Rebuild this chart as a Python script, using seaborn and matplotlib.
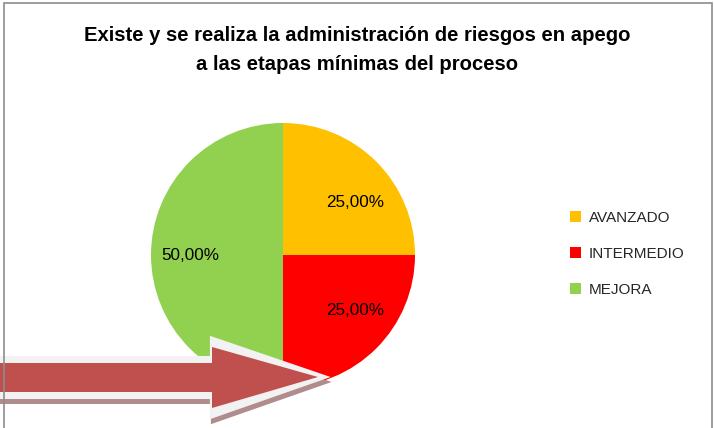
import matplotlib
matplotlib.use('Agg')
import matplotlib.pyplot as plt
import seaborn as sns
from matplotlib.patches import Polygon, Rectangle

# Datos
categorias = ['AVANZADO', 'INTERMEDIO', 'MEJORA']
porcentajes = [25.0, 25.0, 50.0]
colores = ['#FFC000', '#FF0000', '#92D050']
titulo = 'Existe y se realiza la administración de riesgos en apego\na las etapas mínimas del proceso'

sns.set_theme(style='white')
plt.rcParams['font.family'] = ['Liberation Sans', 'DejaVu Sans']

W, H = 714, 428
fig = plt.figure(figsize=(W / 100, H / 100), dpi=100)
fig.patch.set_facecolor('white')

# Marco del gráfico
fig.patches.append(Rectangle((4 / W, -0.05), 708 / W, 1.05 - 3 / H,
                             transform=fig.transFigure, fill=False,
                             edgecolor='#8C8C8C', linewidth=1.2))

# Pastel
cx, cy, r = 283, 255, 132
ax = fig.add_axes([(cx - r) / W, 1 - (cy + r) / H, 2 * r / W, 2 * r / H])
wedges, textos = ax.pie(porcentajes, colors=colores, startangle=90, counterclock=False,
                        radius=1.0, wedgeprops=dict(linewidth=0))
ax.set_xlim(-1, 1)
ax.set_ylim(-1, 1)
ax.set_aspect('auto')
ax.axis('off')

# Etiquetas de porcentaje
pos_etiquetas = [(0.55, 0.40), (0.55, -0.42), (-0.70, 0.0)]
for (x, y), p in zip(pos_etiquetas, porcentajes):
    ax.text(x, y, f'{p:.2f}'.replace('.', ',') + '%', ha='center', va='center',
            fontsize=12.3, color='#000000')

fig.text(0.5, 1 - 50 / H, titulo, ha='center', va='center', fontsize=14.6,
         fontweight='bold', linespacing=1.65, color='#000000')

leg = fig.legend(wedges, categorias, loc='center left',
                 bbox_to_anchor=(556 / W, 1 - 254 / H), frameon=False,
                 fontsize=11, handlelength=0.75, handleheight=0.75,
                 handletextpad=0.5, labelspacing=1.45)

# Flecha superpuesta
ov = fig.add_axes([0, 0, 1, 1], facecolor='none')
ov.set_xlim(0, W)
ov.set_ylim(H, 0)
ov.axis('off')

def flecha(dx, dy, ext):
    pts = [(-10, 363 - ext), (212 - ext * 0.3, 363 - ext), (212 - ext * 0.3, 347 - ext * 1.6),
           (318 + ext * 1.8, 377), (212 - ext * 0.3, 408 + ext * 1.6),
           (212 - ext * 0.3, 392 + ext), (-10, 392 + ext)]
    return [(x + dx, y + dy) for x, y in pts]

ov.add_patch(Polygon(flecha(1, 5, 7), closed=True, facecolor='#B08C8C', edgecolor='none'))
ov.add_patch(Polygon(flecha(0, 0, 7), closed=True, facecolor='#F2F2F2', edgecolor='none'))
ov.add_patch(Polygon(flecha(0, 0, 0), closed=True, facecolor='#C0504D', edgecolor='none'))

fig.savefig('out.png', dpi=100)
plt.close(fig)
